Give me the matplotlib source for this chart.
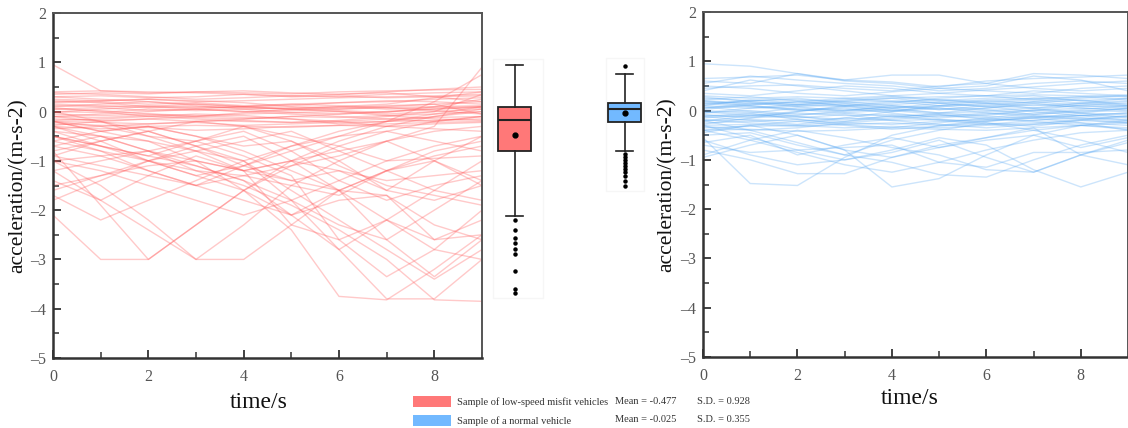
import matplotlib
matplotlib.use("Agg")
import matplotlib.pyplot as plt
from matplotlib.patches import Patch, Rectangle
from matplotlib.ticker import MultipleLocator

plt.rcParams['font.family'] = ['Liberation Serif', 'DejaVu Serif']

# time axis (s)
time_s = [0, 1, 2, 3, 4, 5, 6, 7, 8, 9]

# low-speed misfit vehicles - samples that stay near zero
red_band = [
    [0.35, 0.38, 0.36, 0.40, 0.38, 0.36, 0.40, 0.42, 0.44, 0.45],
    [0.30, 0.32, 0.28, 0.30, 0.35, 0.32, 0.30, 0.35, 0.38, 0.40],
    [0.25, 0.22, 0.25, 0.20, 0.22, 0.25, 0.28, 0.30, 0.32, 0.35],
    [0.18, 0.20, 0.15, 0.18, 0.12, 0.15, 0.18, 0.20, 0.25, 0.28],
    [0.12, 0.10, 0.12, 0.08, 0.10, 0.05, 0.08, 0.12, 0.15, 0.20],
    [0.05, 0.08, 0.02, 0.05, 0.00, 0.02, 0.05, 0.08, 0.10, 0.12],
    [0.00, -0.02, 0.05, 0.02, 0.05, 0.08, 0.10, 0.05, 0.08, 0.10],
    [-0.05, -0.08, -0.05, -0.10, -0.05, -0.02, 0.00, -0.05, 0.00, 0.05],
    [-0.10, -0.12, -0.08, -0.12, -0.15, -0.10, -0.12, -0.08, -0.05, 0.00],
    [-0.15, -0.18, -0.15, -0.20, -0.18, -0.22, -0.20, -0.15, -0.12, -0.10],
    [-0.20, -0.22, -0.25, -0.22, -0.28, -0.25, -0.22, -0.20, -0.18, -0.15],
    [-0.25, -0.28, -0.30, -0.28, -0.30, -0.32, -0.28, -0.25, -0.22, -0.20],
    [-0.30, -0.35, -0.32, -0.38, -0.35, -0.30, -0.28, -0.30, -0.25, -0.22],
    [0.40, 0.42, 0.38, 0.40, 0.42, 0.38, 0.35, 0.40, 0.45, 0.50],
    [0.95, 0.42, 0.40, 0.38, 0.35, 0.30, 0.32, 0.28, 0.30, 0.32],
    [0.22, 0.18, 0.10, 0.05, 0.00, -0.05, -0.10, -0.15, -0.20, -0.10],
    [0.10, 0.15, 0.20, 0.15, 0.10, 0.12, 0.18, 0.22, 0.20, 0.15],
    [0.30, 0.25, 0.20, 0.12, 0.05, -0.02, -0.05, 0.00, 0.05, 0.08],
    [-0.10, -0.05, 0.00, 0.05, 0.10, 0.15, 0.12, 0.08, 0.02, -0.05],
    [0.05, 0.02, -0.05, -0.08, -0.12, -0.15, -0.25, -0.20, -0.10, 0.00],
    [-0.35, -0.30, -0.25, -0.20, -0.15, -0.10, -0.05, 0.00, 0.05, 0.10],
    [0.15, 0.12, 0.08, 0.10, 0.08, 0.05, 0.02, -0.02, 0.10, 0.25],
    [0.38, 0.35, 0.30, 0.25, 0.28, 0.32, 0.35, 0.38, 0.30, 0.20],
    [-0.02, 0.05, 0.10, 0.15, 0.10, 0.05, 0.00, -0.08, -0.15, -0.18],
    [0.20, 0.22, 0.25, 0.22, 0.18, 0.10, 0.05, 0.10, 0.15, -0.05],
    [-0.18, -0.15, -0.10, -0.05, -0.08, -0.15, -0.20, -0.30, -0.35, -0.40],
    [0.08, 0.00, -0.10, -0.15, -0.20, -0.22, -0.18, -0.10, 0.00, 0.35],
    [-0.28, -0.20, -0.15, -0.10, -0.02, 0.05, 0.10, 0.15, 0.28, 0.40],
]

# low-speed misfit vehicles - samples with strong decelerations
red_dips = [
    [-0.50, -0.80, -1.20, -1.50, -1.10, -0.70, -0.40, -0.20, -0.05, 0.10],
    [-2.10, -3.00, -3.00, -2.30, -1.60, -1.10, -0.70, -0.40, -0.20, -0.10],
    [-1.00, -1.50, -2.20, -3.00, -3.00, -2.30, -1.60, -1.20, -0.90, -0.70],
    [-1.20, -1.80, -2.40, -3.00, -2.30, -1.50, -1.00, -0.60, -0.40, -0.30],
    [-0.80, -1.90, -3.00, -2.30, -1.60, -1.00, -0.60, -0.30, -0.10, 0.05],
    [-1.70, -2.20, -1.80, -1.40, -1.00, -0.70, -0.50, -0.40, -0.60, -0.80],
    [-1.80, -1.40, -1.00, -0.70, -0.50, -1.00, -1.60, -2.20, -2.80, -3.00],
    [-0.40, -0.50, -0.60, -0.80, -1.00, -1.60, -2.20, -2.80, -3.40, -2.80],
    [-0.20, -0.40, -0.60, -1.00, -1.60, -2.40, -3.75, -3.82, -3.20, -2.50],
    [-0.10, -0.20, -0.40, -0.70, -1.00, -1.80, -2.80, -3.80, -3.80, -3.00],
    [-0.30, -0.50, -0.80, -1.20, -1.50, -1.90, -2.40, -3.00, -3.82, -3.85],
    [0.00, -0.20, -0.50, -0.80, -1.20, -2.30, -2.60, -3.35, -2.80, -2.00],
    [-0.50, -0.70, -0.90, -1.10, -1.40, -1.80, -2.30, -2.60, -3.35, -2.60],
    [-0.20, -0.30, -0.50, -0.60, -0.90, -1.30, -2.60, -2.20, -1.60, -1.00],
    [-1.00, -0.90, -1.20, -1.50, -1.80, -2.10, -1.80, -1.70, -2.30, -2.60],
    [-0.60, -0.40, -0.30, -0.50, -0.80, -1.20, -1.60, -2.60, -2.00, -1.40],
    [-1.50, -1.30, -1.10, -1.00, -1.20, -1.40, -1.60, -1.70, -2.60, -2.20],
    [-0.90, -1.10, -1.30, -1.50, -1.30, -1.10, -0.90, -0.60, -0.30, 0.90],
    [-0.30, -0.60, -1.00, -1.30, -1.10, -0.80, -0.50, -0.20, 0.20, 0.75],
    [-0.70, -0.90, -0.80, -1.00, -1.20, -1.00, -1.20, -1.40, -1.30, -1.20],
    [-0.50, -0.70, -1.00, -1.20, -1.30, -1.50, -1.70, -1.20, -1.00, -1.50],
    [-0.80, -0.60, -0.40, -0.70, -1.10, -1.40, -1.20, -1.60, -1.80, -1.50],
    [-1.20, -1.00, -0.80, -0.60, -0.40, -0.80, -1.40, -1.80, -1.50, -1.30],
    [-0.40, -0.70, -0.90, -0.60, -0.30, -0.60, -1.00, -1.60, -1.00, -0.50],
    [-1.60, -1.30, -1.00, -0.80, -0.60, -0.40, -0.80, -1.20, -1.60, -1.80],
    [-0.60, -0.80, -1.00, -1.30, -1.60, -2.10, -1.60, -1.20, -0.80, -0.60],
    [-1.40, -1.80, -1.30, -0.90, -1.20, -1.00, -0.80, -0.60, -1.00, -1.40],
    [-0.90, -0.60, -0.40, -0.20, -0.30, -0.50, -0.70, -1.00, -0.95, -0.90],
    [-0.20, -0.40, -0.30, -0.50, -0.70, -0.60, -1.10, -1.50, -1.70, -1.90],
    [-1.00, -1.20, -1.50, -1.80, -2.10, -1.80, -1.40, -1.00, -0.70, -0.50],
    [-0.70, -0.50, -0.80, -1.10, -1.40, -2.10, -2.80, -2.20, -2.60, -2.50],
]

# normal vehicles - central band
blue_band = [
    [0.25, 0.20, 0.22, 0.18, 0.25, 0.28, 0.30, 0.32, 0.30, 0.28],
    [0.20, 0.15, 0.10, 0.15, 0.20, 0.15, 0.22, 0.25, 0.20, 0.25],
    [0.15, 0.18, 0.12, 0.08, 0.12, 0.18, 0.15, 0.10, 0.15, 0.20],
    [0.10, 0.05, 0.08, 0.12, 0.05, 0.10, 0.12, 0.18, 0.10, 0.15],
    [0.05, 0.10, 0.02, 0.00, 0.08, 0.02, 0.05, 0.12, 0.08, 0.10],
    [0.00, -0.05, 0.05, 0.02, -0.02, 0.05, 0.00, 0.05, 0.10, 0.05],
    [-0.05, 0.00, -0.08, -0.05, 0.02, -0.05, -0.02, 0.00, 0.05, 0.02],
    [-0.10, -0.12, -0.05, -0.10, -0.08, -0.12, -0.05, -0.08, 0.00, -0.02],
    [-0.15, -0.08, -0.12, -0.18, -0.12, -0.08, -0.12, -0.15, -0.05, -0.08],
    [-0.20, -0.18, -0.22, -0.15, -0.20, -0.18, -0.22, -0.12, -0.10, -0.12],
    [-0.25, -0.22, -0.18, -0.25, -0.28, -0.22, -0.18, -0.20, -0.15, -0.18],
    [-0.30, -0.28, -0.32, -0.28, -0.25, -0.30, -0.28, -0.25, -0.20, -0.25],
    [-0.35, -0.32, -0.30, -0.35, -0.32, -0.35, -0.30, -0.28, -0.25, -0.30],
    [-0.40, -0.38, -0.42, -0.40, -0.35, -0.38, -0.40, -0.35, -0.30, -0.35],
    [0.30, 0.25, 0.28, 0.25, 0.30, 0.22, 0.18, 0.25, 0.28, 0.32],
    [0.12, 0.20, 0.25, 0.15, 0.05, -0.05, -0.10, 0.00, 0.12, 0.18],
    [-0.12, -0.20, -0.28, -0.15, -0.02, 0.10, 0.20, 0.15, 0.05, 0.00],
    [0.08, -0.02, -0.12, -0.22, -0.15, -0.05, 0.05, 0.15, 0.22, 0.12],
    [-0.28, -0.15, -0.02, 0.10, 0.18, 0.22, 0.15, 0.05, -0.05, -0.15],
    [0.18, 0.10, 0.02, -0.05, -0.12, -0.20, -0.28, -0.20, -0.10, -0.05],
    [-0.05, 0.05, 0.12, 0.20, 0.25, 0.15, 0.08, -0.02, -0.10, -0.20],
    [0.22, 0.28, 0.20, 0.10, 0.00, 0.08, 0.15, 0.22, 0.28, 0.22],
    [-0.18, -0.25, -0.30, -0.22, -0.10, -0.18, -0.25, -0.32, -0.20, -0.10],
    [0.02, 0.12, 0.18, 0.10, 0.15, 0.25, 0.30, 0.22, 0.15, 0.08],
    [-0.32, -0.40, -0.35, -0.25, -0.18, -0.10, -0.15, -0.22, -0.30, -0.38],
    [0.15, 0.08, 0.00, 0.05, -0.05, -0.15, -0.08, 0.02, -0.05, 0.05],
    [-0.08, -0.15, -0.10, 0.00, 0.10, 0.05, -0.05, -0.12, -0.18, -0.25],
    [0.28, 0.18, 0.12, 0.18, 0.10, 0.02, 0.10, 0.05, 0.15, 0.25],
    [-0.22, -0.10, -0.15, -0.08, -0.20, -0.28, -0.35, -0.28, -0.18, -0.12],
    [0.05, 0.15, 0.08, -0.02, 0.05, 0.15, 0.08, 0.18, 0.25, 0.30],
    [-0.40, -0.30, -0.22, -0.30, -0.38, -0.32, -0.22, -0.15, -0.25, -0.40],
    [0.10, 0.22, 0.15, 0.22, 0.28, 0.20, 0.25, 0.30, 0.20, 0.10],
    [-0.12, -0.05, -0.18, -0.28, -0.35, -0.25, -0.15, -0.05, 0.02, 0.10],
    [0.20, 0.12, 0.18, 0.25, 0.18, 0.10, 0.02, -0.08, -0.02, 0.05],
    [-0.02, -0.10, -0.02, 0.08, 0.00, -0.08, -0.18, -0.10, -0.15, -0.22],
]

# normal vehicles - upper samples
blue_high = [
    [0.95, 0.90, 0.75, 0.60, 0.55, 0.45, 0.40, 0.35, 0.45, 0.50],
    [0.65, 0.68, 0.72, 0.62, 0.72, 0.72, 0.55, 0.75, 0.72, 0.65],
    [0.60, 0.55, 0.75, 0.62, 0.58, 0.48, 0.60, 0.65, 0.68, 0.72],
    [0.55, 0.70, 0.62, 0.55, 0.50, 0.40, 0.45, 0.55, 0.60, 0.55],
    [0.45, 0.50, 0.52, 0.45, 0.40, 0.50, 0.55, 0.45, 0.40, 0.45],
    [0.40, 0.62, 0.50, 0.40, 0.30, 0.35, 0.42, 0.48, 0.55, 0.60],
    [0.35, 0.30, 0.40, 0.50, 0.45, 0.35, 0.30, 0.40, 0.35, 0.30],
    [0.50, 0.45, 0.35, 0.30, 0.38, 0.45, 0.50, 0.70, 0.62, 0.40],
]

# normal vehicles - lower samples
blue_low = [
    [-0.55, -1.48, -1.52, -0.95, -0.50, -0.30, -0.20, -0.15, -0.10, -0.05],
    [-0.95, -0.70, -0.50, -0.80, -1.55, -1.38, -0.90, -0.50, -0.30, -0.20],
    [-0.60, -0.90, -1.10, -1.00, -0.80, -0.55, -0.70, -1.20, -1.55, -1.25],
    [-0.40, -0.60, -0.85, -1.10, -1.25, -1.05, -0.80, -0.60, -0.45, -0.40],
    [-0.80, -1.00, -1.28, -1.28, -0.95, -0.70, -0.55, -0.40, -0.30, -0.25],
    [-0.50, -0.45, -0.70, -0.90, -1.05, -1.30, -1.35, -1.00, -0.70, -0.50],
    [-0.30, -0.55, -0.80, -1.00, -0.85, -0.60, -0.95, -1.25, -0.90, -0.60],
    [-0.70, -0.85, -0.80, -0.75, -0.70, -1.05, -1.15, -0.85, -0.85, -0.80],
    [-0.45, -0.30, -0.50, -0.80, -0.95, -0.75, -0.55, -0.35, -0.90, -1.10],
    [-0.90, -0.60, -0.40, -0.55, -0.75, -0.90, -1.20, -1.25, -0.90, -0.65],
    [-0.20, -0.40, -0.65, -0.90, -0.60, -0.40, -0.25, -0.40, -0.60, -0.85],
    [-0.65, -0.50, -0.90, -0.70, -0.55, -0.75, -0.60, -0.50, -0.75, -0.55],
]

# box plot summaries
red_box = dict(med=-0.17, q1=-0.80, q3=0.10, whislo=-2.11, whishi=0.95, mean=-0.477,
               fliers=[-2.21, -2.41, -2.56, -2.66, -2.78, -2.88, -3.23, -3.59, -3.69])
blue_box = dict(med=0.05, q1=-0.22, q3=0.18, whislo=-0.80, whishi=0.77, mean=-0.025,
                fliers=[0.92, -0.86, -0.92, -0.98, -1.04, -1.10, -1.16, -1.22, -1.30, -1.40, -1.50])

labels = ["Sample of low-speed misfit vehicles", "Sample of a normal vehicle"]
means = [-0.477, -0.025]
sds = [0.928, 0.355]

RED_LINE = "#ff5c5c"
BLUE_LINE = "#58a8f4"
RED_FILL = "#ff7878"
BLUE_FILL = "#72b9ff"
AXIS_C = "#333333"

W, H = 1128, 428
fig = plt.figure(figsize=(W / 100, H / 100), dpi=100)

def px_axes(x0, x1, ytop, ybot):
    return fig.add_axes([x0 / W, 1 - ybot / H, (x1 - x0) / W, (ybot - ytop) / H])

def style_axes(ax):
    ax.set_xlim(0, 9)
    ax.set_ylim(-5, 2)
    ax.xaxis.set_major_locator(MultipleLocator(2))
    ax.xaxis.set_minor_locator(MultipleLocator(1))
    ax.yaxis.set_major_locator(MultipleLocator(1))
    ax.yaxis.set_minor_locator(MultipleLocator(0.5))
    ax.tick_params(which='both', direction='in', top=False, right=False,
                   color=AXIS_C, labelsize=11.5, labelcolor='#555555')
    ax.tick_params(axis='x', pad=8)
    ax.tick_params(axis='y', pad=5)
    ax.tick_params(which='major', length=6, width=1.3)
    ax.tick_params(which='minor', length=4, width=1.1)
    for side in ['left', 'bottom']:
        ax.spines[side].set_linewidth(1.8)
        ax.spines[side].set_color(AXIS_C)
    for side in ['top', 'right']:
        ax.spines[side].set_linewidth(1.4)
        ax.spines[side].set_color('#555555')
    ax.set_xticks([0, 2, 4, 6, 8])
    ax.set_yticks([-5, -4, -3, -2, -1, 0, 1, 2])
    ax.set_yticklabels(['\u20135', '\u20134', '\u20133', '\u20132', '\u20131', '0', '1', '2'])
    ax.set_xlabel('time/s', fontsize=17, color='#111111')
    ax.set_ylabel('acceleration/(m-s-2)', fontsize=15.5, color='#111111')

# left panel
ax1 = px_axes(53, 482, 13, 358)
for ys in red_band + red_dips:
    ax1.plot(time_s, ys, color=RED_LINE, alpha=0.33, lw=1.0)
style_axes(ax1)
ax1.xaxis.set_label_coords(0.48, -0.10)
ax1.yaxis.set_label_coords(-0.06, 0.5)

# right panel
ax2 = px_axes(703, 1128, 12, 357)
for ys in blue_band + blue_high + blue_low:
    ax2.plot(time_s, ys, color=BLUE_LINE, alpha=0.3, lw=1.0)
style_axes(ax2)
ax2.xaxis.set_label_coords(0.487, -0.09)
ax2.yaxis.set_label_coords(-0.061, 0.5)

# box plots in the middle, same y scale as the left panel
axb = px_axes(485, 660, 13, 358)
axb.set_xlim(485, 660)
axb.set_ylim(-5, 2)
axb.axis('off')
axb.add_patch(Rectangle((493, -3.78), 50, 4.85, facecolor='none', edgecolor='#f6f6f6', lw=1))
axb.add_patch(Rectangle((606, -1.62), 38, 2.7, facecolor='none', edgecolor='#f6f6f6', lw=1))
bp = axb.bxp([red_box, blue_box], positions=[514.5, 624.5], widths=33, patch_artist=True,
             showmeans=True, showfliers=True,
             boxprops=dict(edgecolor='#222222', linewidth=1.3),
             medianprops=dict(color='#222222', linewidth=1.5),
             whiskerprops=dict(color='#222222', linewidth=1.2),
             capprops=dict(color='#222222', linewidth=1.2),
             capwidths=17,
             meanprops=dict(marker='o', markerfacecolor='black', markeredgecolor='black', markersize=3.5),
             flierprops=dict(marker='o', markerfacecolor='black', markeredgecolor='black', markersize=2.2))
bp['boxes'][0].set_facecolor(RED_FILL)
bp['boxes'][1].set_facecolor(BLUE_FILL)

# legend with summary statistics
handles = [Patch(facecolor=RED_FILL, edgecolor='none'), Patch(facecolor=BLUE_FILL, edgecolor='none')]
fig.legend(handles, labels, loc='upper left', bbox_to_anchor=(404 / W, 1 - 387 / H),
           frameon=False, fontsize=7.5, handlelength=3.6, handleheight=1.2,
           labelspacing=0.75, handletextpad=0.6, labelcolor='#333333')
row_y = [401, 419]
for i in range(2):
    fig.text(615 / W, 1 - row_y[i] / H, f"Mean = {means[i]:.3f}", fontsize=7.5,
             color='#333333', va='center')
    fig.text(697 / W, 1 - (row_y[i] + 1) / H, f"S.D. = {sds[i]:.3f}", fontsize=7.5,
             color='#333333', va='center')

fig.savefig('out.png', dpi=100)
